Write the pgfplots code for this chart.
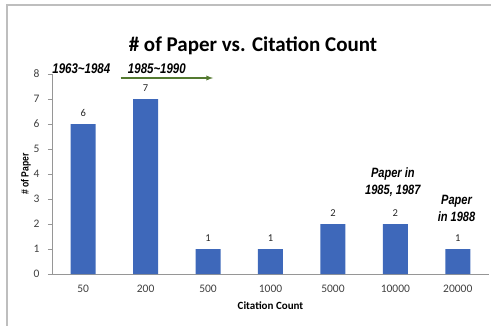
\documentclass[border=0pt]{standalone}
\usepackage{fontspec}
\setmainfont{Carlito}
\newfontfamily\narrowfont[FakeStretch=0.82]{Liberation Sans}
\usepackage{pgfplots}
\pgfplotsset{compat=1.18}
\definecolor{barblue}{RGB}{62,104,186}
\definecolor{arrgreen}{RGB}{84,122,48}
\definecolor{axgray}{RGB}{150,150,150}
\begin{document}
\begin{tikzpicture}[x=1pt,y=1pt]
\useasboundingbox (0,0) rectangle (491,325);
\draw[color={rgb,255:red,190;green,190;blue,190},line width=1.6pt] (7,-5) -- (7,320) -- (496,320);
\node[font=\fontsize{21}{24}\selectfont\bfseries] at (253,279) {\# of Paper vs. Citation Count};
\begin{axis}[
  at={(52pt,51pt)}, anchor=south west,
  scale only axis, width=437pt, height=200pt,
  xmin=-0.5, xmax=6.5, ymin=0, ymax=8,
  axis x line=bottom, axis y line=left,
  axis line style={-, draw=axgray, line width=0.6pt},
  xtick={0,...,6},
  xticklabels={50,200,500,1000,5000,10000,20000},
  minor xtick={-0.5,0.5,...,6.5},
  ytick={0,...,8},
  tick align=outside,
  major tick length=4pt, minor tick length=4pt,
  xtick style={draw=none},
  minor tick style={draw=axgray, line width=0.6pt},
  ytick style={draw=axgray, line width=0.6pt},
  /pgf/number format/assume math mode=true,
  tick label style={font=\fontsize{11.5}{13}\selectfont, text=black!75},
  xticklabel style={yshift=-4pt},
  yticklabel style={xshift=-5pt},
  xlabel={Citation Count},
  ylabel={\# of Paper},
  xlabel style={font=\fontsize{11}{13}\selectfont\bfseries, yshift=-2pt},
  ylabel style={font=\narrowfont\fontsize{10.5}{12}\selectfont\bfseries, yshift=-4pt},
  clip=false,
  ybar, bar width=25pt,
  nodes near coords,
  every node near coord/.append style={font=\fontsize{10.5}{12}\selectfont, text=black!85, anchor=south, inner sep=0pt, yshift=7pt},
]
\addplot[fill=barblue, draw=none] coordinates {(0,6) (1,7) (2,1) (3,1) (4,2) (5,2) (6,1)};
\node[font=\narrowfont\bfseries\itshape\fontsize{14}{16}\selectfont] at (axis cs:-0.03,8.2) {1963\char`~1984};
\node[font=\narrowfont\bfseries\itshape\fontsize{14}{16}\selectfont] at (axis cs:1.18,8.2) {1985\char`~1990};
\draw[->, >=latex, arrgreen, line width=1.3pt] (axis cs:0.6,7.84) -- (axis cs:2.08,7.84);
\node[font=\narrowfont\bfseries\itshape\fontsize{13.5}{17}\selectfont, align=center] at (axis cs:4.96,3.68) {Paper in\\1985, 1987};
\node[font=\narrowfont\bfseries\itshape\fontsize{13.5}{17}\selectfont, align=center] at (axis cs:5.98,2.64) {Paper\\in 1988};
\end{axis}
\end{tikzpicture}
\end{document}
